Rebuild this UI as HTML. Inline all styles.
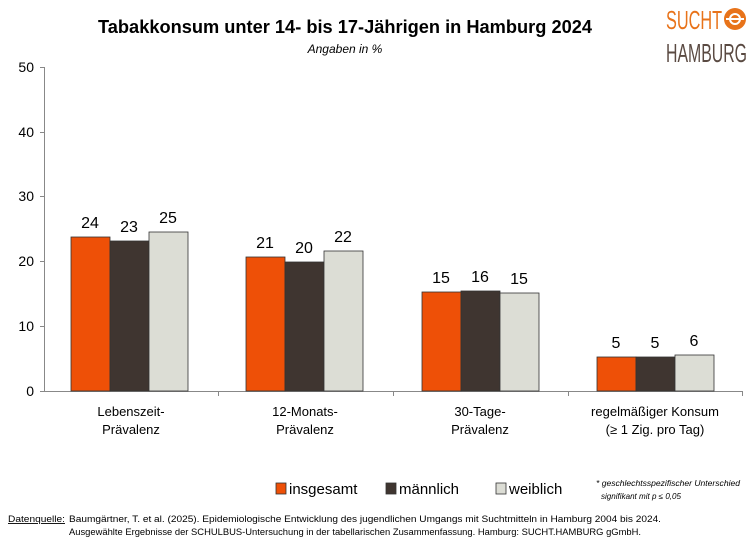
<!DOCTYPE html>
<html><head><meta charset="utf-8"><style>
body{margin:0;background:#fff;width:750px;height:538px;overflow:hidden;font-family:"Liberation Sans",sans-serif}
</style></head><body>
<svg width="750" height="538" xmlns="http://www.w3.org/2000/svg" font-family="Liberation Sans, sans-serif">
<text x="345" y="33" text-anchor="middle" font-size="18" font-weight="bold" fill="#000" textLength="494" lengthAdjust="spacingAndGlyphs">Tabakkonsum unter 14- bis 17-Jährigen in Hamburg 2024</text>
<text x="345" y="53" text-anchor="middle" font-size="12" font-style="italic" fill="#000">Angaben in %</text>
<text x="666" y="29" font-size="26" fill="#e8731a" textLength="56" lengthAdjust="spacingAndGlyphs">SUCHT</text>
<circle cx="735" cy="19" r="11" fill="#e8731a"/>
<path d="M726 19 h18" stroke="#fff" stroke-width="2"/>
<circle cx="735" cy="19" r="5" fill="none" stroke="#fff" stroke-width="2"/>
<text x="666" y="62" font-size="26" fill="#5a4a42" textLength="81" lengthAdjust="spacingAndGlyphs">HAMBURG</text>
<g stroke="#888" stroke-width="1">
<line x1="44.5" y1="67" x2="44.5" y2="391"/>
<line x1="44" y1="391.5" x2="742" y2="391.5"/>
<line x1="40" y1="67.5" x2="44" y2="67.5"/><line x1="40" y1="132.5" x2="44" y2="132.5"/>
<line x1="40" y1="196.5" x2="44" y2="196.5"/><line x1="40" y1="261.5" x2="44" y2="261.5"/>
<line x1="40" y1="326.5" x2="44" y2="326.5"/><line x1="40" y1="391.5" x2="44" y2="391.5"/>
<line x1="218.5" y1="391" x2="218.5" y2="396"/><line x1="393.5" y1="391" x2="393.5" y2="396"/><line x1="568.5" y1="391" x2="568.5" y2="396"/><line x1="742.5" y1="391" x2="742.5" y2="396"/>
</g>
<g font-size="14" text-anchor="end" fill="#000">
<text x="34" y="72">50</text><text x="34" y="137">40</text><text x="34" y="201">30</text><text x="34" y="266">20</text><text x="34" y="331">10</text><text x="34" y="396">0</text>
</g>
<g stroke="#333" stroke-width="0.8">
<rect x="71" y="237" width="39" height="154" fill="#ee5007"/>
<rect x="110" y="241" width="39" height="150" fill="#3f3530"/>
<rect x="149" y="232" width="39" height="159" fill="#dcddd5"/>
<rect x="246" y="257" width="39" height="134" fill="#ee5007"/>
<rect x="285" y="262" width="39" height="129" fill="#3f3530"/>
<rect x="324" y="251" width="39" height="140" fill="#dcddd5"/>
<rect x="422" y="292" width="39" height="99" fill="#ee5007"/>
<rect x="461" y="291" width="39" height="100" fill="#3f3530"/>
<rect x="500" y="293" width="39" height="98" fill="#dcddd5"/>
<rect x="597" y="357" width="39" height="34" fill="#ee5007"/>
<rect x="636" y="357" width="39" height="34" fill="#3f3530"/>
<rect x="675" y="355" width="39" height="36" fill="#dcddd5"/>
</g>
<g font-size="16" text-anchor="middle" fill="#000">
<text x="90" y="228">24</text><text x="129" y="232">23</text><text x="168" y="223">25</text>
<text x="265" y="248">21</text><text x="304" y="253">20</text><text x="343" y="242">22</text>
<text x="441" y="283">15</text><text x="480" y="282">16</text><text x="519" y="284">15</text>
<text x="616" y="348">5</text><text x="655" y="348">5</text><text x="694" y="346">6</text>
</g>
<g font-size="13" text-anchor="middle" fill="#000">
<text x="131" y="416">Lebenszeit-</text><text x="131" y="434">Prävalenz</text>
<text x="305" y="416">12-Monats-</text><text x="305" y="434">Prävalenz</text>
<text x="480" y="416">30-Tage-</text><text x="480" y="434">Prävalenz</text>
<text x="655" y="416">regelmäßiger Konsum</text><text x="655" y="434">(≥ 1 Zig. pro Tag)</text>
</g>
<g font-size="15" fill="#000">
<rect x="276" y="483" width="10" height="11" fill="#ee5007" stroke="#333" stroke-width="0.8"/><text x="289" y="494">insgesamt</text>
<rect x="386" y="483" width="10" height="11" fill="#3f3530" stroke="#333" stroke-width="0.8"/><text x="399" y="494">männlich</text>
<rect x="496" y="483" width="10" height="11" fill="#dcddd5" stroke="#333" stroke-width="0.8"/><text x="509" y="494">weiblich</text>
</g>
<g font-size="8" font-style="italic" fill="#000">
<text x="596" y="486" textLength="144" lengthAdjust="spacingAndGlyphs">* geschlechtsspezifischer Unterschied</text>
<text x="601" y="499" textLength="80" lengthAdjust="spacingAndGlyphs">signifikant mit p ≤ 0,05</text>
</g>
<g font-size="9" fill="#000">
<text x="8" y="522" text-decoration="underline" textLength="57" lengthAdjust="spacingAndGlyphs">Datenquelle:</text>
<text x="69" y="522" textLength="592" lengthAdjust="spacingAndGlyphs">Baumgärtner, T. et al. (2025). Epidemiologische Entwicklung des jugendlichen Umgangs mit Suchtmitteln in Hamburg 2004 bis 2024.</text>
<text x="69" y="535" textLength="572" lengthAdjust="spacingAndGlyphs">Ausgewählte Ergebnisse der SCHULBUS-Untersuchung in der tabellarischen Zusammenfassung. Hamburg: SUCHT.HAMBURG gGmbH.</text>
</g>
</svg>
</body></html>
